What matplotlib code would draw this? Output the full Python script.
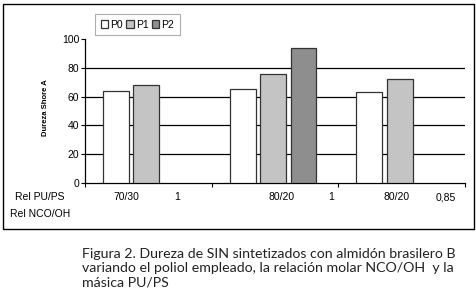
import matplotlib.pyplot as plt
from matplotlib.patches import Rectangle

plt.rcParams['font.family'] = ['Liberation Sans', 'DejaVu Sans']

groups = [0.5, 1.5, 2.5]
series = ['P0', 'P1', 'P2']
p0 = [64, 65, 63]
p1 = [68, 76, 72]
p2 = [None, 94, None]
rel_pu_ps = ['70/30', '80/20', '80/20']
rel_nco_oh = ['1', '1', '0,85']
yticks = [0, 20, 40, 60, 80, 100]

fig = plt.figure(figsize=(4.77, 3.07), dpi=100)
fig.patches.append(Rectangle((3 / 477, 1 - 229 / 307), 471 / 477, 225 / 307,
                             transform=fig.transFigure, fill=False,
                             edgecolor='black', linewidth=1.0))

ax = fig.add_axes([85 / 477, 1 - 183 / 307, 380 / 477, 144 / 307])

width = 0.205
offsets = [-0.255, -0.016, 0.225]
colors = ['white', '#c4c4c4', '#8e8e8e']
for vals, off, col, name in zip([p0, p1, p2], offsets, colors, series):
    xs = [g + off for g, v in zip(groups, vals) if v is not None]
    hs = [v for v in vals if v is not None]
    ax.bar(xs, hs, width=width, color=col, edgecolor='#333333',
           linewidth=0.9, label=name, zorder=3)

for y in [20, 40, 60, 80]:
    ax.axhline(y, color='black', linewidth=0.9, zorder=1)

ax.set_xlim(0, 3)
ax.set_ylim(0, 100)
ax.set_yticks(yticks)
ax.set_xticks([0, 1, 2, 3])
ax.set_xticklabels([])
ax.tick_params(axis='y', labelsize=7.5, length=3, width=0.8, pad=1)
ax.tick_params(axis='x', length=3, width=0.8)
ax.spines['top'].set_visible(False)
ax.spines['right'].set_visible(False)
ax.spines['left'].set_linewidth(0.9)
ax.spines['bottom'].set_linewidth(0.9)

ax.set_ylabel('Dureza Shore A', fontsize=5.5, fontweight='bold')
ax.yaxis.set_label_coords(-0.095, 0.52)

# labels under the axis
pu_x = [0.33, 1.55, 2.46]
nco_x = [0.73, 1.94, 2.85]
for x, t in zip(pu_x, rel_pu_ps):
    ax.text(x, -10, t, ha='center', va='center', fontsize=7.5, clip_on=False)
for x, t in zip(nco_x, rel_nco_oh):
    ax.text(x, -10, t, ha='center', va='center', fontsize=7.5, clip_on=False)
fig.text(40 / 477, 1 - 197 / 307, 'Rel PU/PS', ha='center', va='center', fontsize=7.5)
fig.text(40 / 477, 1 - 214 / 307, 'Rel NCO/OH', ha='center', va='center', fontsize=7.5)

leg = ax.legend(loc='upper left', bbox_to_anchor=(95 / 477, 1 - 14 / 307),
                bbox_transform=fig.transFigure, ncol=3, fontsize=7.5,
                frameon=True, fancybox=False, handlelength=0.7, handleheight=0.7,
                handletextpad=0.2, columnspacing=0.35, borderpad=0.55,
                borderaxespad=0)
leg.get_frame().set_edgecolor('#999999')
leg.get_frame().set_linewidth(0.8)

caption = ('Figura 2. Dureza de SIN sintetizados con almidón brasilero B\n'
           'variando el poliol empleado, la relación molar NCO/OH  y la\n'
           'másica PU/PS')
fig.text(82 / 477, 1 - 248 / 307, caption, ha='left', va='top', fontsize=10.2,
         linespacing=1.22, family=['Lato', 'DejaVu Sans'], color='#222222')

fig.savefig('out.png', dpi=100)
